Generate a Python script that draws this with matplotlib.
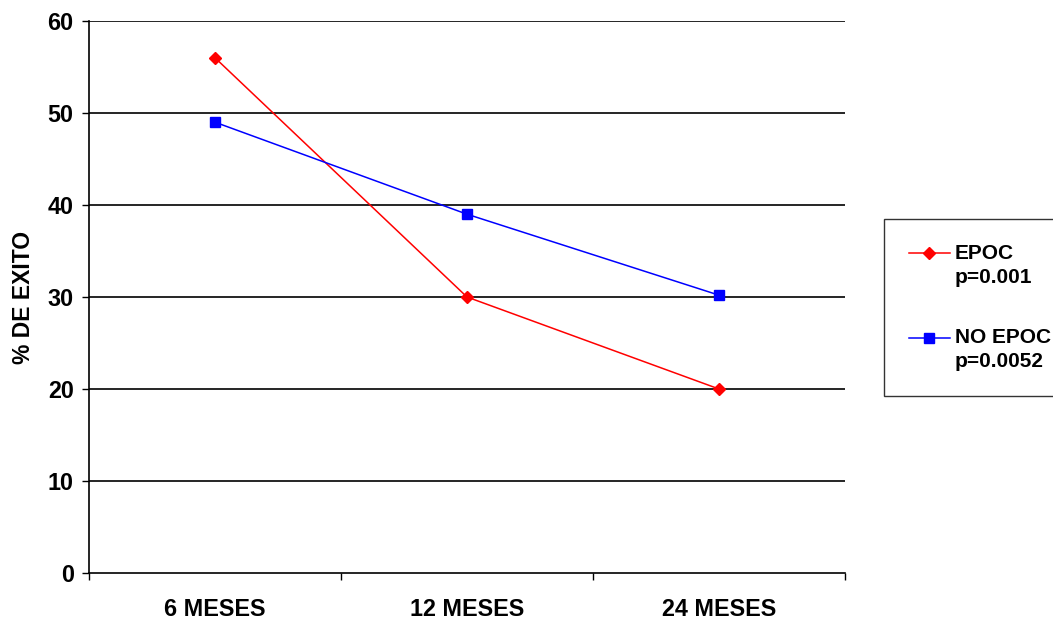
import matplotlib.pyplot as plt
import numpy as np
from matplotlib.legend_handler import HandlerLine2D

plt.rcParams['font.family'] = ['Liberation Sans', 'DejaVu Sans']
plt.rcParams['font.weight'] = 'bold'

categorias = ['6 MESES', '12 MESES', '24 MESES']
epoc = [56, 30, 20]
no_epoc = [49, 39, 30.2]
etiquetas = ['EPOC\np=0.001', 'NO EPOC\np=0.0052']


# handle alineado con la primera linea del texto
class HandlerArriba(HandlerLine2D):
    def create_artists(self, legend, orig_handle, xdescent, ydescent,
                       width, height, fontsize, trans):
        return super().create_artists(legend, orig_handle, xdescent,
                                      ydescent - 17.5, width, height,
                                      fontsize, trans)


fig = plt.figure(figsize=(10.53, 6.2), dpi=100)
ax = fig.add_axes([89/1053, 1-573/620, (845-89)/1053, (573-21)/620])

x = np.arange(len(categorias)) + 0.5
l1, = ax.plot(x, epoc, color='#ff0000', lw=1.1, marker='D', ms=6, label=etiquetas[0])
l2, = ax.plot(x, no_epoc, color='#0000ff', lw=1.1, marker='s', ms=6.5, label=etiquetas[1])

ax.set_xlim(0, 3)
ax.set_ylim(0, 60)
ax.set_yticks(np.arange(0, 61, 10))
for v in range(10, 61, 10):
    ax.axhline(v, color='black', lw=1.2, zorder=0)

ax.set_xticks([0, 1, 2, 3])
ax.set_xticklabels([])
ax.set_xticks(x, minor=True)
ax.set_xticklabels(categorias, minor=True, fontsize=16.8, fontweight='bold')
ax.tick_params(axis='x', which='minor', length=0, pad=18)
ax.tick_params(axis='x', which='major', length=5, width=1, direction='out')
ax.tick_params(axis='y', length=5, width=1, pad=6, labelsize=16.8)

for s in ['top', 'right']:
    ax.spines[s].set_visible(False)
ax.spines['left'].set_linewidth(1.2)
ax.spines['bottom'].set_linewidth(1.2)

ax.set_ylabel('% DE EXITO', fontsize=16.5, fontweight='bold')
ax.yaxis.set_label_coords(-0.071, 0.5)

leg = fig.legend(loc='upper left', bbox_to_anchor=(884/1053, 1-219/620),
                 frameon=True, fancybox=False, edgecolor='black',
                 fontsize=15, labelspacing=2.0, handlelength=1.95,
                 handletextpad=0.25, borderpad=1.2, borderaxespad=0,
                 handler_map={l1: HandlerArriba(), l2: HandlerArriba()})
leg.get_frame().set_linewidth(1.0)
for t in leg.get_texts():
    t.set_linespacing(1.32)

fig.savefig('out.png', dpi=100)
